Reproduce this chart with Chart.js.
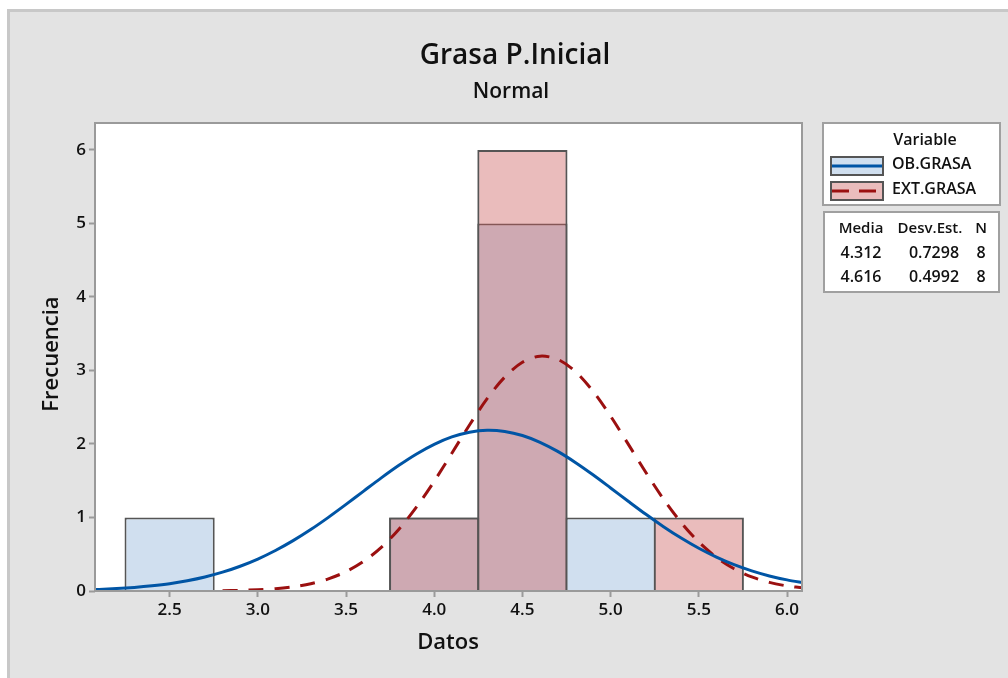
<!DOCTYPE html>
<html>
<head>
<meta charset="utf-8">
<title>Grasa P.Inicial</title>
<script src="https://cdn.jsdelivr.net/npm/chart.js@4"></script>
<style>
    html, body { margin: 0; padding: 0; background: #ffffff; }
    #wrap { width: 1008px; height: 678px; }
</style>
</head>
<body>
<div id="wrap"><canvas id="myHistChart" width="1008" height="678"></canvas></div>
<script>
// data
const chart_title = 'Grasa P.Inicial';
const chart_subtitle = 'Normal';
const x_title = 'Datos';
const y_title = 'Frecuencia';

const series_names = ['OB.GRASA', 'EXT.GRASA'];
const series_media = ['4.312', '4.616'];
const series_desv = ['0.7298', '0.4992'];
const series_n = ['8', '8'];

const bin_centers = [2.5, 3.0, 3.5, 4.0, 4.5, 5.0, 5.5, 6.0];
const ob_counts = [1, 0, 0, 1, 5, 1, 0, 0];
const ext_counts = [0, 0, 0, 1, 6, 0, 1, 0];

const ob_curve_x = [2.0, 2.1, 2.2, 2.3, 2.4, 2.5, 2.6, 2.7, 2.8, 2.9, 3.0, 3.1, 3.2, 3.3,
    3.4, 3.5, 3.6, 3.7, 3.8, 3.9, 4.0, 4.1, 4.2, 4.3, 4.4, 4.5, 4.6, 4.7, 4.8, 4.9,
    5.0, 5.1, 5.2, 5.3, 5.4, 5.5, 5.6, 5.7, 5.8, 5.9, 6.0, 6.1];
const ob_curve_y = [0.014, 0.022, 0.033, 0.049, 0.071, 0.100, 0.140, 0.191, 0.256, 0.337,
    0.435, 0.551, 0.685, 0.836, 1.002, 1.178, 1.359, 1.539, 1.710, 1.865, 1.996, 2.097,
    2.161, 2.187, 2.171, 2.116, 2.023, 1.899, 1.749, 1.581, 1.402, 1.221, 1.043, 0.875,
    0.720, 0.581, 0.461, 0.358, 0.274, 0.205, 0.151, 0.109];

const ext_curve_x = [2.8, 2.9, 3.0, 3.1, 3.2, 3.3, 3.4, 3.5, 3.6, 3.7, 3.8, 3.9, 4.0, 4.1,
    4.2, 4.3, 4.4, 4.5, 4.6, 4.7, 4.8, 4.9, 5.0, 5.1, 5.2, 5.3, 5.4, 5.5, 5.6, 5.7,
    5.8, 5.9, 6.0, 6.1];
const ext_curve_y = [0.004, 0.009, 0.017, 0.032, 0.057, 0.099, 0.165, 0.263, 0.403, 0.594,
    0.841, 1.143, 1.493, 1.874, 2.259, 2.617, 2.911, 3.112, 3.195, 3.152, 2.987, 2.719,
    2.378, 1.998, 1.613, 1.250, 0.931, 0.666, 0.458, 0.303, 0.192, 0.117, 0.069, 0.039];

const x_ticks = [2.5, 3.0, 3.5, 4.0, 4.5, 5.0, 5.5, 6.0];
const y_ticks = [0, 1, 2, 3, 4, 5, 6];

const FONT = "'Open Sans', 'Noto Sans', sans-serif";
const BLUE_FILL = '#d0dfef';
const RED_FILL = 'rgba(202, 88, 88, 0.4)';
const RED_SWATCH = '#eabcbc';
const BLUE_LINE = '#0055a5';
const RED_LINE = '#9b1010';
const BAR_EDGE = '#555555';
const FRAME = '#9a9a9a';
// bars a touch wider than the bin so neighbouring 2px edges share one line
const BAR_PCT = 1.0227;

function to_points(xs, ys) {
    let pts = [];
    for (let i = 0; i < xs.length; i++) {
        pts.push({x: xs[i], y: ys[i]});
    }
    return pts;
}

function bar_points(counts) {
    let pts = [];
    for (let i = 0; i < bin_centers.length; i++) {
        pts.push({x: bin_centers[i], y: counts[i] > 0 ? counts[i] : null});
    }
    return pts;
}

const decor_plugin = {
    id: 'decor',
    beforeDraw(chart) {
        const ctx = chart.ctx;
        const a = chart.chartArea;
        ctx.save();
        ctx.fillStyle = '#ffffff';
        ctx.fillRect(0, 0, chart.width, chart.height);
        ctx.fillStyle = '#e3e3e3';
        ctx.fillRect(7, 9, chart.width - 7, chart.height - 9);
        ctx.strokeStyle = '#c8c8c8';
        ctx.lineWidth = 3;
        ctx.beginPath();
        ctx.moveTo(8.5, chart.height);
        ctx.lineTo(8.5, 10.5);
        ctx.lineTo(chart.width, 10.5);
        ctx.stroke();
        ctx.fillStyle = '#ffffff';
        ctx.fillRect(a.left, a.top, a.right - a.left, a.bottom - a.top);
        ctx.restore();
    },
    afterDatasetsDraw(chart) {
        const ctx = chart.ctx;
        const a = chart.chartArea;
        ctx.save();
        ctx.strokeStyle = FRAME;
        ctx.lineWidth = 2;
        ctx.strokeRect(a.left, a.top, a.right - a.left, a.bottom - a.top);
        ctx.restore();
    },
    afterDraw(chart) {
        const ctx = chart.ctx;
        ctx.save();
        ctx.fillStyle = '#111111';
        ctx.textAlign = 'center';
        ctx.textBaseline = 'alphabetic';
        ctx.font = '600 28px ' + FONT;
        ctx.fillText(chart_title, 515, 64);
        ctx.font = '600 21px ' + FONT;
        ctx.fillText(chart_subtitle, 511, 98);

        // axis titles
        ctx.font = '600 22px ' + FONT;
        ctx.textBaseline = 'middle';
        ctx.fillText(x_title, 448, 643);
        ctx.save();
        ctx.translate(52, 354);
        ctx.rotate(-Math.PI / 2);
        ctx.fillText(y_title, 0, 0);
        ctx.restore();

        // legend box
        ctx.fillStyle = '#ffffff';
        ctx.fillRect(823, 123, 177, 82);
        ctx.strokeStyle = '#a0a0a0';
        ctx.lineWidth = 2;
        ctx.strokeRect(823, 123, 177, 82);
        ctx.fillStyle = '#111111';
        ctx.font = '600 16px ' + FONT;
        ctx.fillText('Variable', 925, 140);

        const sw_fill = [BLUE_FILL, RED_SWATCH];
        const sw_line = [BLUE_LINE, RED_LINE];
        const sw_dash = [[], [17, 10]];
        const sw_top = [157, 182];
        for (let i = 0; i < series_names.length; i++) {
            ctx.fillStyle = sw_fill[i];
            ctx.fillRect(831, sw_top[i], 52, 18);
            ctx.strokeStyle = BAR_EDGE;
            ctx.lineWidth = 2;
            ctx.setLineDash([]);
            ctx.strokeRect(831, sw_top[i], 52, 18);
            ctx.strokeStyle = sw_line[i];
            ctx.lineWidth = 3;
            ctx.setLineDash(sw_dash[i]);
            ctx.beginPath();
            ctx.moveTo(832, sw_top[i] + 9);
            ctx.lineTo(882, sw_top[i] + 9);
            ctx.stroke();
            ctx.setLineDash([]);
            ctx.fillStyle = '#111111';
            ctx.textAlign = 'left';
            ctx.font = '600 16px ' + FONT;
            ctx.fillText(series_names[i], 892, sw_top[i] + 7);
        }

        // stats box
        ctx.fillStyle = '#ffffff';
        ctx.fillRect(824, 212, 175, 80);
        ctx.strokeStyle = '#a0a0a0';
        ctx.lineWidth = 2;
        ctx.strokeRect(824, 212, 175, 80);
        ctx.fillStyle = '#111111';
        ctx.textAlign = 'center';
        ctx.font = '600 15px ' + FONT;
        ctx.fillText('Media', 861, 229);
        ctx.fillText('Desv.Est.', 930, 229);
        ctx.fillText('N', 981, 229);
        ctx.font = '600 16px ' + FONT;
        const row_y = [253, 277];
        for (let i = 0; i < series_names.length; i++) {
            ctx.fillText(series_media[i], 861, row_y[i]);
            ctx.fillText(series_desv[i], 934, row_y[i]);
            ctx.fillText(series_n[i], 981, row_y[i]);
        }
        ctx.restore();
    }
};

function hist_graph() {
    const ctx = document.getElementById('myHistChart').getContext('2d');

    window.myHistChart = new Chart(ctx, {
        type: 'bar',
        data: {
            datasets: [
                {
                    type: 'line',
                    label: series_names[0],
                    data: to_points(ob_curve_x, ob_curve_y),
                    borderColor: BLUE_LINE,
                    borderWidth: 3,
                    pointRadius: 0,
                    tension: 0.3,
                    fill: false,
                    order: 0
                },
                {
                    type: 'line',
                    label: series_names[1],
                    data: to_points(ext_curve_x, ext_curve_y),
                    borderColor: RED_LINE,
                    borderWidth: 3,
                    borderDash: [15, 11],
                    pointRadius: 0,
                    tension: 0.3,
                    fill: false,
                    order: 1
                },
                {
                    label: series_names[1],
                    data: bar_points(ext_counts),
                    backgroundColor: RED_FILL,
                    borderColor: BAR_EDGE,
                    borderWidth: 2,
                    inflateAmount: 0,
                    barPercentage: BAR_PCT,
                    categoryPercentage: 1,
                    grouped: false,
                    order: 2
                },
                {
                    label: series_names[0],
                    data: bar_points(ob_counts),
                    backgroundColor: BLUE_FILL,
                    borderColor: BAR_EDGE,
                    borderWidth: 2,
                    inflateAmount: 0,
                    barPercentage: BAR_PCT,
                    categoryPercentage: 1,
                    grouped: false,
                    order: 3
                }
            ]
        },
        options: {
            responsive: false,
            animation: false,
            events: [],
            layout: {
                padding: {left: 0, top: 123, right: 206, bottom: 0}
            },
            plugins: {
                legend: {display: false},
                tooltip: {enabled: false}
            },
            scales: {
                x: {
                    type: 'linear',
                    offset: false,
                    min: 2.077,
                    max: 6.085,
                    afterBuildTicks: (scale) => {
                        scale.ticks = x_ticks.map(v => ({value: v}));
                    },
                    afterFit: (scale) => {
                        scale.height = 87;
                    },
                    ticks: {
                        color: '#111111',
                        padding: 3,
                        maxRotation: 0,
                        autoSkip: false,
                        font: {family: FONT, size: 17, weight: '600'},
                        callback: (v) => Number(v).toFixed(1)
                    },
                    grid: {
                        offset: false,
                        drawOnChartArea: false,
                        drawTicks: true,
                        tickLength: 6,
                        tickWidth: 2,
                        tickColor: FRAME
                    },
                    border: {display: false}
                },
                y: {
                    type: 'linear',
                    min: 0,
                    max: 6.367,
                    afterBuildTicks: (scale) => {
                        scale.ticks = y_ticks.map(v => ({value: v}));
                    },
                    afterFit: (scale) => {
                        scale.width = 95;
                    },
                    ticks: {
                        color: '#111111',
                        padding: 3,
                        autoSkip: false,
                        font: {family: FONT, size: 17, weight: '600'},
                        callback: (v) => String(v)
                    },
                    grid: {
                        drawOnChartArea: false,
                        drawTicks: true,
                        tickLength: 6,
                        tickWidth: 2,
                        tickColor: FRAME
                    },
                    border: {display: false}
                }
            }
        },
        plugins: [decor_plugin]
    });
}

window.onload = () => {
    hist_graph();
}
</script>
</body>
</html>
